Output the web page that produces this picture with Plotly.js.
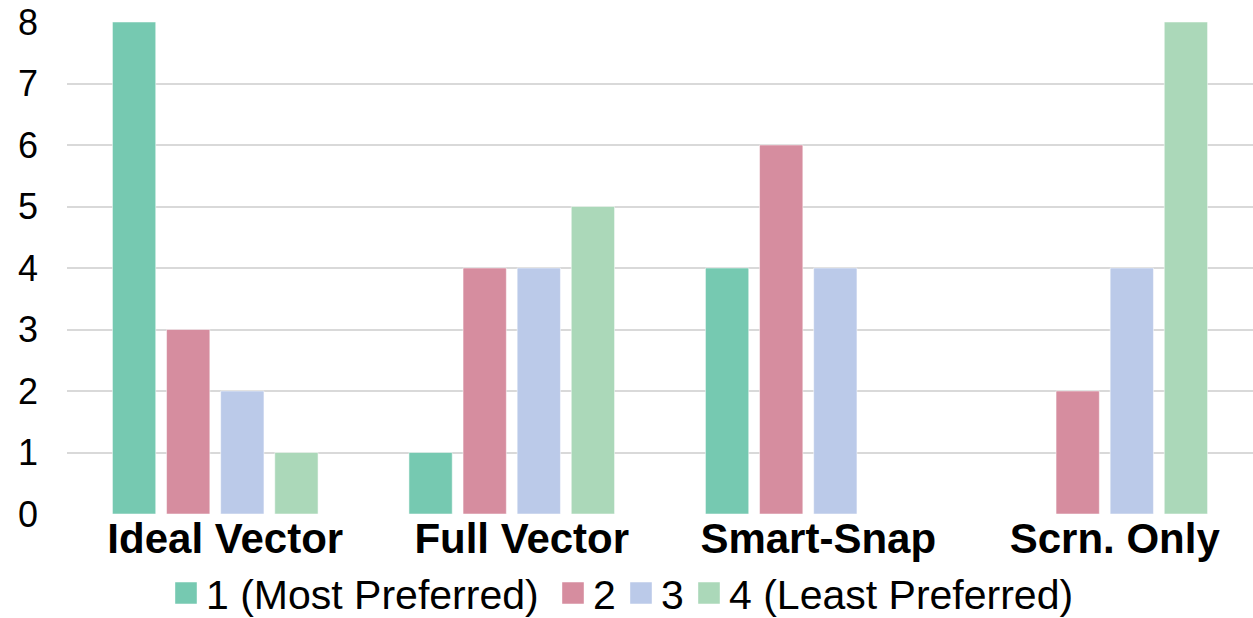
<!DOCTYPE html>
<html><head><meta charset="utf-8">
<script src="https://cdn.plot.ly/plotly-3.0.1.min.js"></script>
<style>html,body{margin:0;padding:0;background:#fff}#chart{width:1253px;height:618px}</style>
</head><body><div id="chart"></div>
<script>
const categories = ["Ideal Vector", "Full Vector", "Smart-Snap", "Scrn. Only"];
const seriesNames = ["1 (Most Preferred)", "2", "3", "4 (Least Preferred)"];
const rank1 = [8, 1, 4, 0];
const rank2 = [3, 4, 6, 2];
const rank3 = [2, 4, 4, 4];
const rank4 = [1, 5, 0, 8];
const colors = ["#76C9B1", "#D68D9F", "#BBCAE9", "#ABD8B9"];
const values = [rank1, rank2, rank3, rank4];
const FONT = "Liberation Sans, Arial, Helvetica, sans-serif";
const legendIds = ["legend", "legend2", "legend3", "legend4"];
const legendLeft = [166, 553, 621, 689];
const traces = values.map((v, i) => ({
  type: "bar", x: categories, y: v, name: seriesNames[i], legend: legendIds[i],
  marker: {color: colors[i], line: {color: "rgba(255,255,255,0.5)", width: 1}},
  hoverinfo: "y"
}));
const layout = {
  width: 1253, height: 618,
  margin: {l: 67, r: 0, t: 22, b: 104, autoexpand: false},
  paper_bgcolor: "#fff", plot_bgcolor: "#fff",
  font: {family: FONT, color: "#000"},
  barmode: "group", bargap: 0.27, bargroupgap: 0.2,
  xaxis: {tickfont: {size: 42, family: FONT, weight: "bold"}, automargin: false,
          showgrid: false, zeroline: false, showline: false, ticks: "",
          ticklabelstandoff: -4, ticklabelshift: 10},
  yaxis: {range: [0, 8], dtick: 1, tickfont: {size: 36}, gridcolor: "#D9D9D9", gridwidth: 2,
          automargin: false, zeroline: false, showline: false, ticks: "", ticklabelstandoff: 28},
  showlegend: true
};
legendIds.forEach((id, i) => {
  layout[id] = {orientation: "h", x: legendLeft[i] / 1253, xref: "container", xanchor: "left",
    y: 0.04, yref: "container", yanchor: "middle", bgcolor: "rgba(0,0,0,0)",
    font: {size: 41}, itemwidth: 30};
});
Plotly.newPlot("chart", traces, layout, {displayModeBar: false, staticPlot: true}).then(gd => {
  gd.querySelectorAll(".legendpoints path").forEach(p => {
    const t = p.getAttribute("transform") || "";
    p.setAttribute("transform", t + " scale(1.8)");
    p.style.strokeWidth = "0";
  });
});
</script></body></html>
